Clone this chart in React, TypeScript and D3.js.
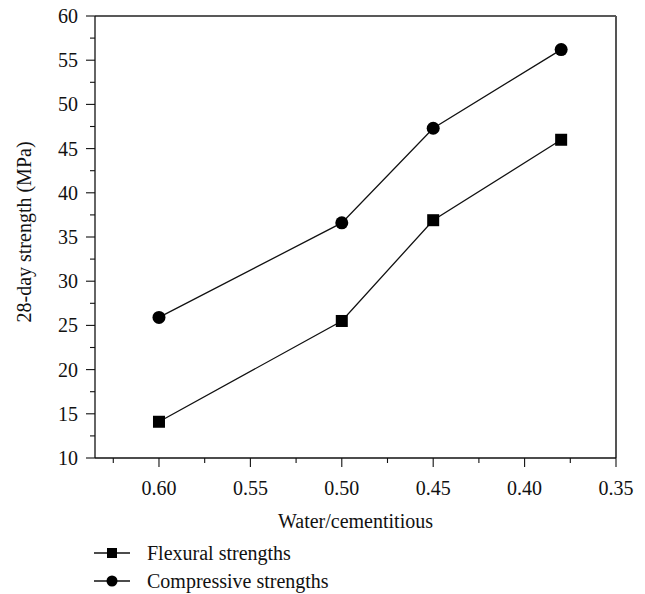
import React from "react";
import * as d3 from "d3";

const waterRatio = [0.6, 0.5, 0.45, 0.38];
const flexural = [14.1, 25.5, 36.9, 46.0];
const compressive = [25.9, 36.6, 47.3, 56.2];
const xTicks = [0.6, 0.55, 0.5, 0.45, 0.4, 0.35];
const xMinorTicks = [0.625, 0.575, 0.525, 0.475, 0.425, 0.375];
const yTicks = [10, 15, 20, 25, 30, 35, 40, 45, 50, 55, 60];
const yMinorTicks = [12.5, 17.5, 22.5, 27.5, 32.5, 37.5, 42.5, 47.5, 52.5, 57.5];
const seriesNames = ["Flexural strengths", "Compressive strengths"];

const W = 645;
const H = 594;
const left = 95, right = 616, top = 16, bottom = 458;
const FONT = "'Liberation Serif', 'DejaVu Serif', serif";
const FS = 20;
const txt = { fontFamily: FONT, fontSize: FS, fill: "#111" } as React.CSSProperties;

export default function App() {
  const x = d3.scaleLinear().domain([0.635, 0.35]).range([left, right]);
  const y = d3.scaleLinear().domain([10, 60]).range([bottom, top]);
  const line = d3
    .line<[number, number]>()
    .x((d) => x(d[0]))
    .y((d) => y(d[1]));
  const flexPts = waterRatio.map((w, i) => [w, flexural[i]] as [number, number]);
  const compPts = waterRatio.map((w, i) => [w, compressive[i]] as [number, number]);

  return (
    <svg
      width={W}
      height={H}
      style={{ position: "absolute", left: 0, top: 0, background: "#fff" }}
    >
      <rect x={0} y={0} width={W} height={H} fill="#fff" />
      {/* frame */}
      <line x1={left} x2={right} y1={top} y2={top} stroke="#222" strokeWidth={1.3} />
      <line x1={right} x2={right} y1={top} y2={bottom} stroke="#555" strokeWidth={2} />
      <line x1={left} x2={left} y1={top} y2={bottom} stroke="#111" strokeWidth={1.3} />
      <line x1={left} x2={right} y1={bottom} y2={bottom} stroke="#111" strokeWidth={1.3} />
      {/* y ticks */}
      {yTicks.map((t) => (
        <g key={"y" + t}>
          <line x1={left - 9} x2={left} y1={y(t)} y2={y(t)} stroke="#111" strokeWidth={1.1} />
          <text x={left - 17} y={y(t)} dy="0.35em" textAnchor="end" style={txt}>
            {t}
          </text>
        </g>
      ))}
      {yMinorTicks.map((t) => (
        <line key={"ym" + t} x1={left - 5} x2={left} y1={y(t)} y2={y(t)} stroke="#111" strokeWidth={1.1} />
      ))}
      {/* x ticks */}
      {xTicks.map((t) => (
        <g key={"x" + t}>
          <line x1={x(t)} x2={x(t)} y1={bottom} y2={bottom + 9} stroke="#111" strokeWidth={1.1} />
          <text x={x(t)} y={bottom + 37} textAnchor="middle" style={txt}>
            {t.toFixed(2)}
          </text>
        </g>
      ))}
      {xMinorTicks.map((t) => (
        <line key={"xm" + t} x1={x(t)} x2={x(t)} y1={bottom} y2={bottom + 5} stroke="#111" strokeWidth={1.1} />
      ))}
      {/* axis titles */}
      <text x={(left + right) / 2} y={528} textAnchor="middle" style={txt}>
        Water/cementitious
      </text>
      <text
        transform={`translate(31, 232) rotate(-90)`}
        textAnchor="middle"
        style={txt}
      >
        28-day strength (MPa)
      </text>
      {/* series */}
      <path d={line(flexPts) || ""} fill="none" stroke="#111" strokeWidth={1.3} />
      <path d={line(compPts) || ""} fill="none" stroke="#111" strokeWidth={1.3} />
      {flexPts.map((p, i) => (
        <rect key={"f" + i} x={x(p[0]) - 6} y={y(p[1]) - 6} width={12} height={12} fill="#000" />
      ))}
      {compPts.map((p, i) => (
        <circle key={"c" + i} cx={x(p[0])} cy={y(p[1])} r={6.5} fill="#000" />
      ))}
      {/* legend */}
      <g>
        <line x1={94} x2={130} y1={553} y2={553} stroke="#111" strokeWidth={1.3} />
        <rect x={112 - 5} y={553 - 5} width={10} height={10} fill="#000" />
        <text x={147} y={553} dy="0.35em" style={txt}>
          {seriesNames[0]}
        </text>
        <line x1={94} x2={130} y1={581} y2={581} stroke="#111" strokeWidth={1.3} />
        <circle cx={112} cy={581} r={5.5} fill="#000" />
        <text x={147} y={581} dy="0.35em" style={txt}>
          {seriesNames[1]}
        </text>
      </g>
    </svg>
  );
}
